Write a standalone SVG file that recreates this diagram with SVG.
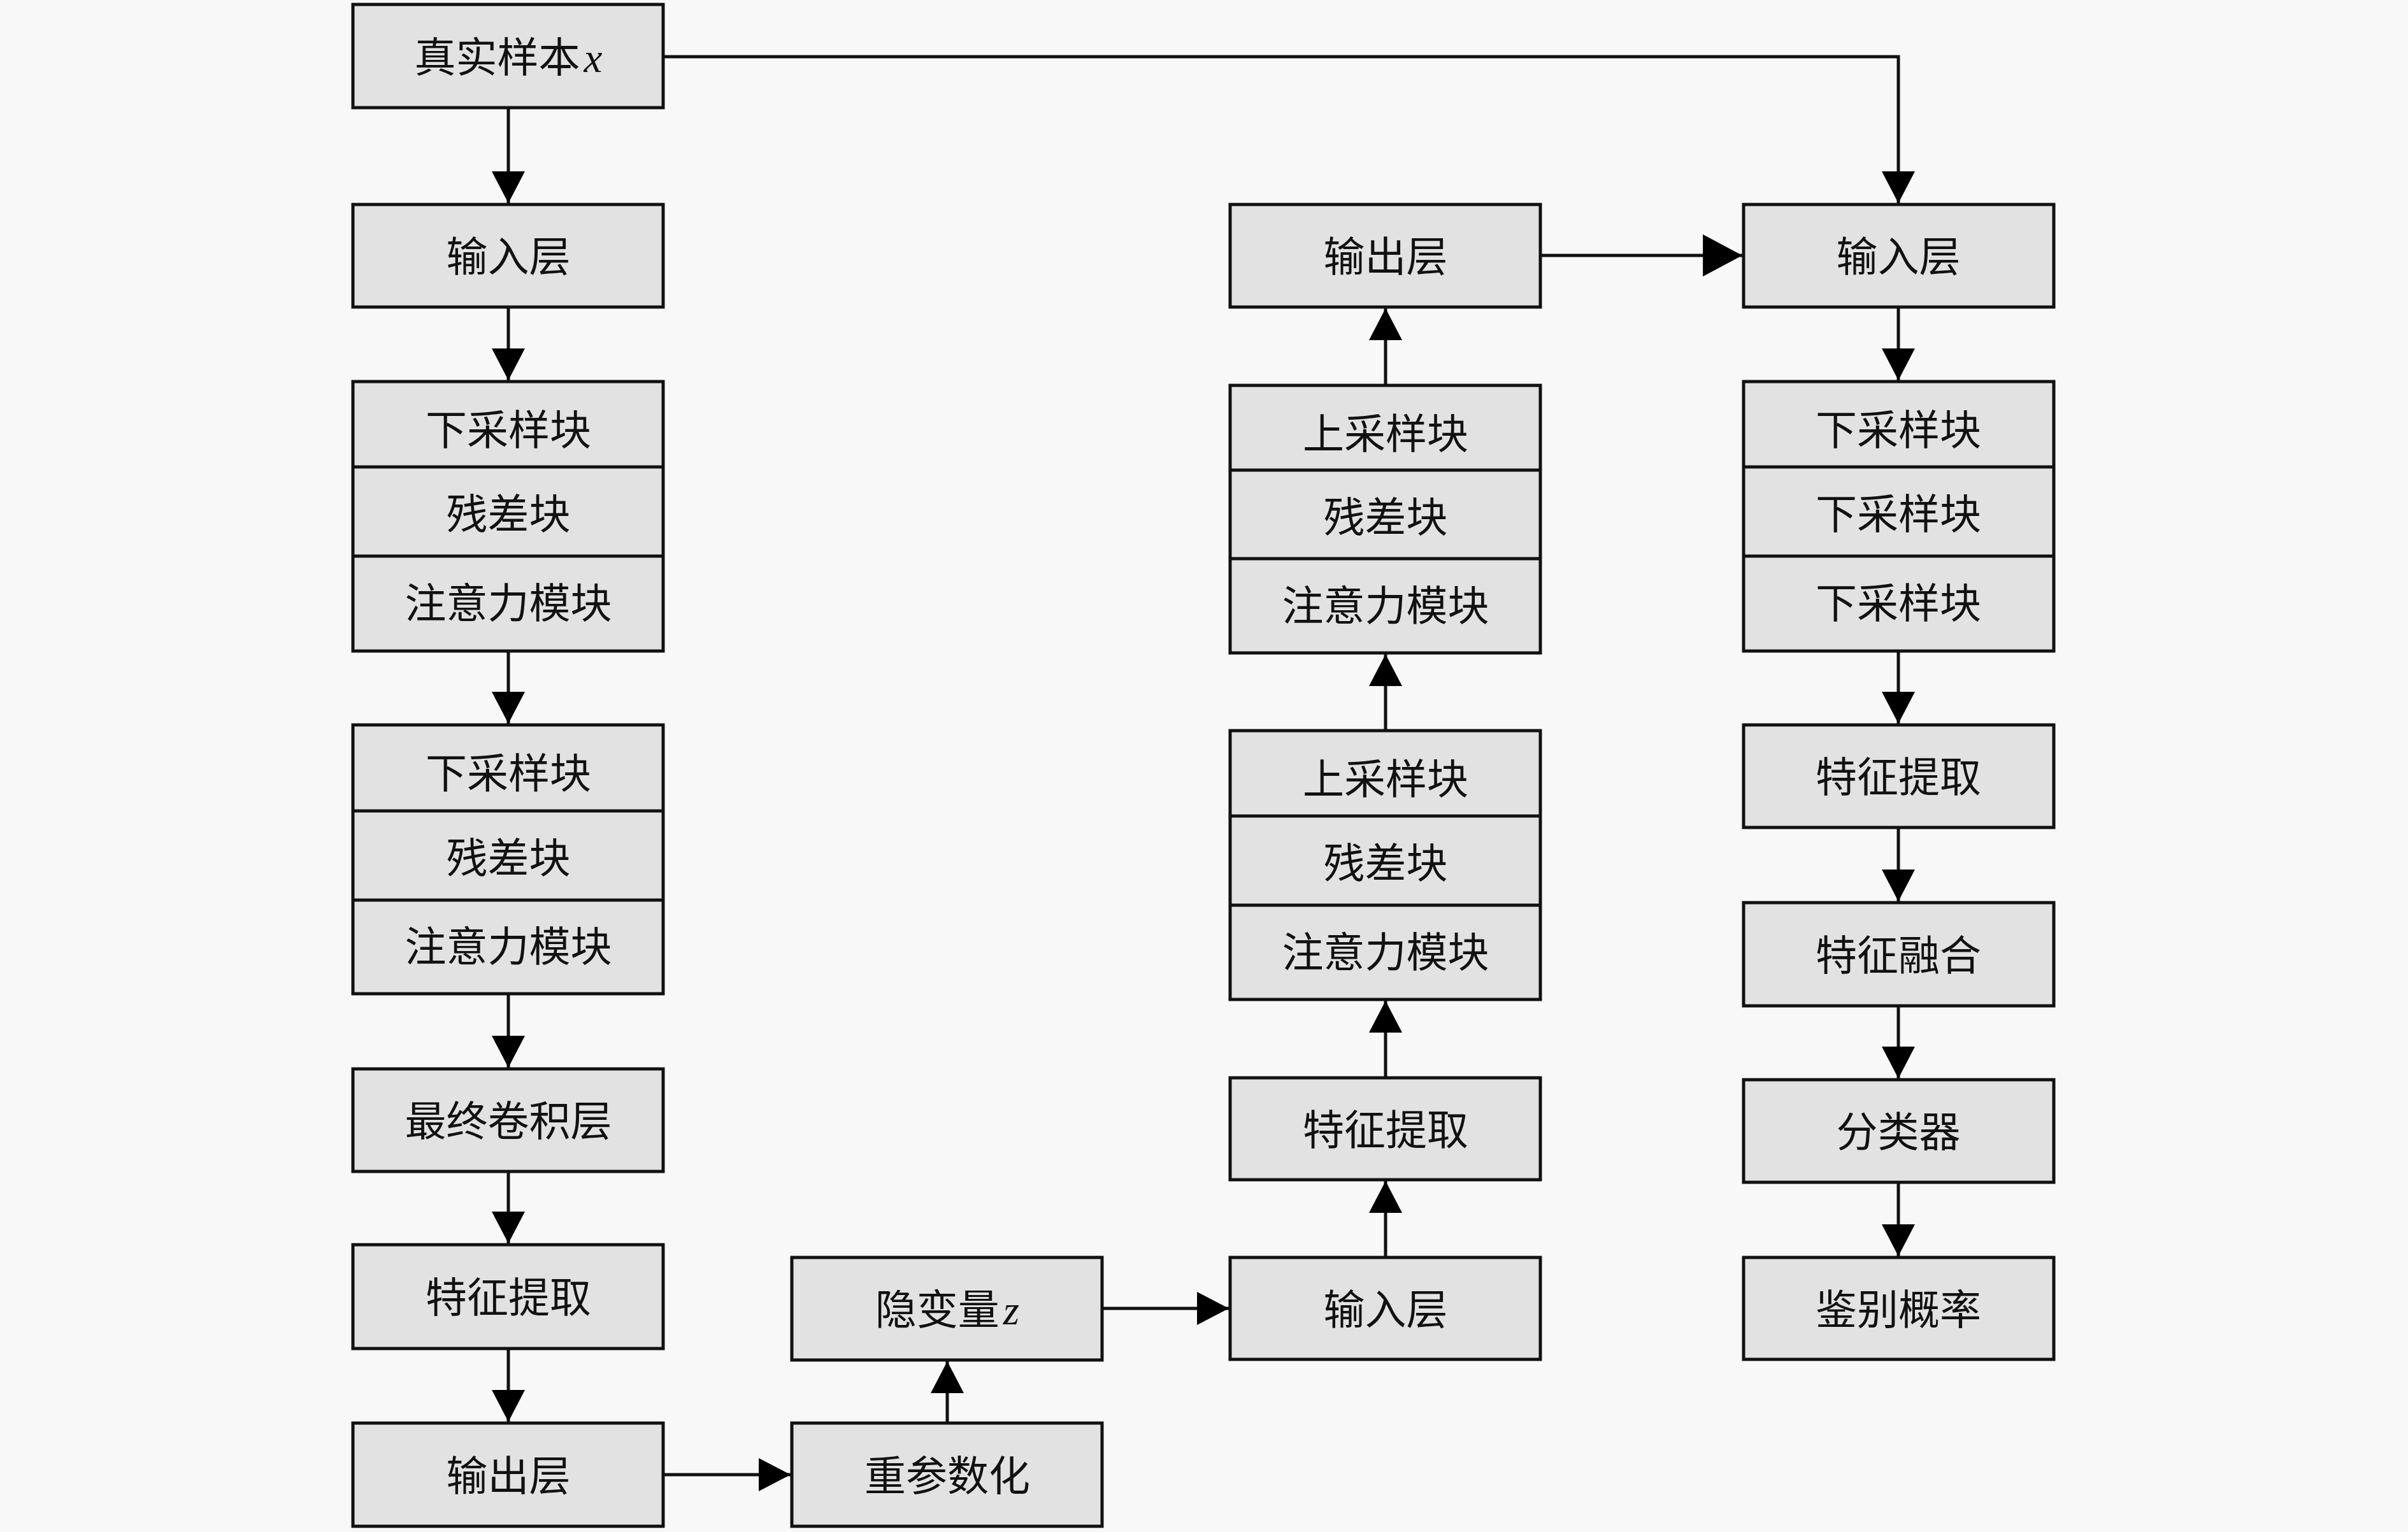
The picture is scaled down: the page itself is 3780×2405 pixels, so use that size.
<svg xmlns="http://www.w3.org/2000/svg" width="3780" height="2405" viewBox="0 0 3780 2405">
<defs>
<style>
.box{fill:#e2e2e2;stroke:#111;stroke-width:5}
.div{stroke:#111;stroke-width:5}
.t{font-family:"Noto Sans CJK SC","Noto Sans",sans-serif;font-size:65px;fill:#111;text-anchor:middle}
.m{font-family:"Liberation Serif",serif;font-style:italic}
.c{fill:none;stroke:#111;stroke-width:5}
</style>
<marker id="ah" markerUnits="userSpaceOnUse" markerWidth="50" markerHeight="52" viewBox="0 0 48 50" refX="48" refY="25" orient="auto">
<path d="M0,0 L48,25 L0,50 Z" fill="#000"/>
</marker>
<marker id="ahL" markerUnits="userSpaceOnUse" markerWidth="62" markerHeight="66" viewBox="0 0 60 64" refX="60" refY="32" orient="auto">
<path d="M0,0 L60,32 L0,64 Z" fill="#000"/>
</marker>
</defs>
<rect x="0" y="0" width="3780" height="2405" fill="#f8f8f8"/>

<g id="connectors">
<path class="c" d="M1041,89 H2980 V319" marker-end="url(#ah)"/>
<path class="c" d="M798,169 V319" marker-end="url(#ah)"/>
<path class="c" d="M798,482 V597" marker-end="url(#ah)"/>
<path class="c" d="M798,1022 V1136" marker-end="url(#ah)"/>
<path class="c" d="M798,1560 V1676" marker-end="url(#ah)"/>
<path class="c" d="M798,1839 V1952" marker-end="url(#ah)"/>
<path class="c" d="M798,2117 V2232" marker-end="url(#ah)"/>
<path class="c" d="M1041,2315 H1241" marker-end="url(#ah)"/>
<path class="c" d="M1487,2234 V2137" marker-end="url(#ah)"/>
<path class="c" d="M1730,2054 H1929" marker-end="url(#ah)"/>
<path class="c" d="M2175,1974 V1854" marker-end="url(#ah)"/>
<path class="c" d="M2175,1692 V1571" marker-end="url(#ah)"/>
<path class="c" d="M2175,1147 V1027" marker-end="url(#ah)"/>
<path class="c" d="M2175,605 V484" marker-end="url(#ah)"/>
<path class="c" d="M2418,401 H2735" marker-end="url(#ahL)"/>
<path class="c" d="M2980,482 V597" marker-end="url(#ah)"/>
<path class="c" d="M2980,1022 V1136" marker-end="url(#ah)"/>
<path class="c" d="M2980,1299 V1415" marker-end="url(#ah)"/>
<path class="c" d="M2980,1579 V1693" marker-end="url(#ah)"/>
<path class="c" d="M2980,1856 V1972" marker-end="url(#ah)"/>
</g>

<g id="real-sample">
<rect class="box" x="554" y="7" width="487" height="162"/>
<text class="t" x="798" y="113">真实样本<tspan class="m" dx="6">x</tspan></text>
</g>
<g id="enc-input">
<rect class="box" x="554" y="321" width="487" height="161"/>
<text class="t" x="798" y="426">输入层</text>
</g>
<g id="enc-block1">
<rect class="box" x="554" y="599" width="487" height="423"/>
<line class="div" x1="554" y1="733" x2="1041" y2="733"/>
<line class="div" x1="554" y1="873" x2="1041" y2="873"/>
<text class="t" x="798" y="698">下采样块</text>
<text class="t" x="798" y="830">残差块</text>
<text class="t" x="798" y="970">注意力模块</text>
</g>
<g id="enc-block2">
<rect class="box" x="554" y="1138" width="487" height="422"/>
<line class="div" x1="554" y1="1273" x2="1041" y2="1273"/>
<line class="div" x1="554" y1="1413" x2="1041" y2="1413"/>
<text class="t" x="798" y="1237">下采样块</text>
<text class="t" x="798" y="1370">残差块</text>
<text class="t" x="798" y="1509">注意力模块</text>
</g>
<g id="enc-final-conv">
<rect class="box" x="554" y="1678" width="487" height="161"/>
<text class="t" x="798" y="1783">最终卷积层</text>
</g>
<g id="enc-feature">
<rect class="box" x="554" y="1954" width="487" height="163"/>
<text class="t" x="798" y="2060">特征提取</text>
</g>
<g id="enc-output">
<rect class="box" x="554" y="2234" width="487" height="162"/>
<text class="t" x="798" y="2340">输出层</text>
</g>
<g id="reparam">
<rect class="box" x="1243" y="2234" width="487" height="162"/>
<text class="t" x="1487" y="2340">重参数化</text>
</g>
<g id="latent-z">
<rect class="box" x="1243" y="1974" width="487" height="161"/>
<text class="t" x="1487" y="2079">隐变量<tspan class="m" dx="6">z</tspan></text>
</g>
<g id="dec-input">
<rect class="box" x="1931" y="1974" width="487" height="160"/>
<text class="t" x="2175" y="2079">输入层</text>
</g>
<g id="dec-feature">
<rect class="box" x="1931" y="1692" width="487" height="160"/>
<text class="t" x="2175" y="1797">特征提取</text>
</g>
<g id="dec-block2">
<rect class="box" x="1931" y="1147" width="487" height="422"/>
<line class="div" x1="1931" y1="1281" x2="2418" y2="1281"/>
<line class="div" x1="1931" y1="1421" x2="2418" y2="1421"/>
<text class="t" x="2175" y="1246">上采样块</text>
<text class="t" x="2175" y="1378">残差块</text>
<text class="t" x="2175" y="1518">注意力模块</text>
</g>
<g id="dec-block1">
<rect class="box" x="1931" y="605" width="487" height="420"/>
<line class="div" x1="1931" y1="738" x2="2418" y2="738"/>
<line class="div" x1="1931" y1="877" x2="2418" y2="877"/>
<text class="t" x="2175" y="704">上采样块</text>
<text class="t" x="2175" y="835">残差块</text>
<text class="t" x="2175" y="974">注意力模块</text>
</g>
<g id="dec-output">
<rect class="box" x="1931" y="321" width="487" height="161"/>
<text class="t" x="2175" y="426">输出层</text>
</g>
<g id="dis-input">
<rect class="box" x="2737" y="321" width="487" height="161"/>
<text class="t" x="2980" y="426">输入层</text>
</g>
<g id="dis-block">
<rect class="box" x="2737" y="599" width="487" height="423"/>
<line class="div" x1="2737" y1="733" x2="3224" y2="733"/>
<line class="div" x1="2737" y1="873" x2="3224" y2="873"/>
<text class="t" x="2980" y="698">下采样块</text>
<text class="t" x="2980" y="830">下采样块</text>
<text class="t" x="2980" y="970">下采样块</text>
</g>
<g id="dis-feature">
<rect class="box" x="2737" y="1138" width="487" height="161"/>
<text class="t" x="2980" y="1243">特征提取</text>
</g>
<g id="dis-fusion">
<rect class="box" x="2737" y="1417" width="487" height="162"/>
<text class="t" x="2980" y="1523">特征融合</text>
</g>
<g id="dis-classifier">
<rect class="box" x="2737" y="1695" width="487" height="161"/>
<text class="t" x="2980" y="1800">分类器</text>
</g>
<g id="dis-prob">
<rect class="box" x="2737" y="1974" width="487" height="160"/>
<text class="t" x="2980" y="2079">鉴别概率</text>
</g>
</svg>
